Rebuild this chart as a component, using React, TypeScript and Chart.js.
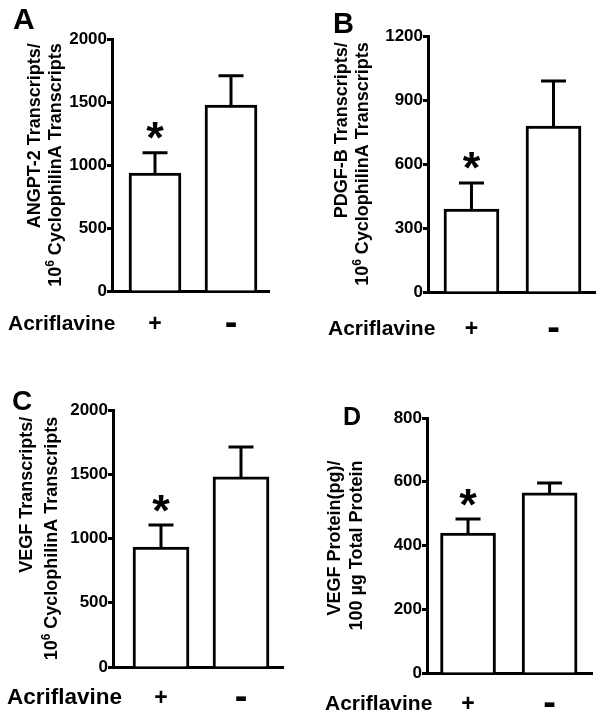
import React, { useEffect, useRef } from 'react';
import { Chart, registerables } from 'chart.js';

Chart.register(...registerables);

const FONT = '"Liberation Sans", Arial, Helvetica, sans-serif';

// ---------- data ----------
const categories = ['+', '-'];
const treatmentLabel = 'Acriflavine';
const significant = [true, false];

const angpt2Means = [936, 1476];
const angpt2Sem = [162, 232];
const angpt2Ticks = [0, 500, 1000, 1500, 2000];

const pdgfbMeans = [389, 778];
const pdgfbSem = [122, 211];
const pdgfbTicks = [0, 300, 600, 900, 1200];

const vegfMeans = [934, 1479];
const vegfSem = [171, 233];
const vegfTicks = [0, 500, 1000, 1500, 2000];

const vegfProteinMeans = [439, 565];
const vegfProteinSem = [44, 31];
const vegfProteinTicks = [0, 200, 400, 600, 800];

type Seg = { text: string; sup?: boolean };

const angpt2Title: Seg[][] = [
  [{ text: 'ANGPT-2 Transcripts/' }],
  [{ text: '10' }, { text: '6', sup: true }, { text: ' CyclophilinA Transcripts' }],
];
const pdgfbTitle: Seg[][] = [
  [{ text: 'PDGF-B Transcripts/' }],
  [{ text: '10' }, { text: '6', sup: true }, { text: ' CyclophilinA Transcripts' }],
];
const vegfTitle: Seg[][] = [
  [{ text: 'VEGF Transcripts/' }],
  [{ text: '10' }, { text: '6', sup: true }, { text: ' CyclophilinA Transcripts' }],
];
const vegfProteinTitle: Seg[][] = [
  [{ text: 'VEGF Protein(pg)/' }],
  [{ text: '100 \u00B5g Total Protein' }],
];

// ---------- layout ----------
const panels = [
  {
    letter: 'A', means: angpt2Means, sem: angpt2Sem, ticks: angpt2Ticks, title: angpt2Title,
    x: 0, y: 0, w: 302, h: 355,
    area: { l: 112, r: 269, t: 39, b: 291 },
    xMin: -0.566, xMax: 1.5, barThickness: 52,
    letterPos: { x: 13, y: 29, size: 30 },
    titleX: [40, 61], xPad: 20, acriX: 8, acriSize: 21,
  },
  {
    letter: 'B', means: pdgfbMeans, sem: pdgfbSem, ticks: pdgfbTicks, title: pdgfbTitle,
    x: 302, y: 0, w: 302, h: 355,
    area: { l: 126, r: 293, t: 36, b: 292 },
    xMin: -0.53, xMax: 1.506, barThickness: 55,
    letterPos: { x: 31, y: 33, size: 29 },
    titleX: [45, 66], xPad: 24, acriX: 26, acriSize: 21,
  },
  {
    letter: 'C', means: vegfMeans, sem: vegfSem, ticks: vegfTicks, title: vegfTitle,
    x: 0, y: 355, w: 302, h: 364,
    area: { l: 113, r: 283, t: 55, b: 312 },
    xMin: -0.6, xMax: 1.525, barThickness: 56,
    letterPos: { x: 12, y: 55, size: 28 },
    titleX: [32, 57], xPad: 18, acriX: 7, acriSize: 22.5,
  },
  {
    letter: 'D', means: vegfProteinMeans, sem: vegfProteinSem, ticks: vegfProteinTicks, title: vegfProteinTitle,
    x: 302, y: 355, w: 302, h: 364,
    area: { l: 125, r: 290, t: 63, b: 318 },
    xMin: -0.503, xMax: 1.52, barThickness: 55,
    letterPos: { x: 41, y: 70, size: 25 },
    titleX: [38, 60], xPad: 18, acriX: 23, acriSize: 21,
  },
];

type PanelCfg = typeof panels[number];

const X_LABEL_SIZE = 23;
const LINE_BOX = X_LABEL_SIZE * 1.2;

function Panel({ p }: { p: PanelCfg }) {
  const ref = useRef<HTMLCanvasElement>(null);
  useEffect(() => {
    const canvas = ref.current!;
    const ticks = p.ticks;
    const yMax = ticks[ticks.length - 1];
    const capWidth = 25;
    const starGap = 22;

    const annotate = {
      id: 'annotate',
      afterDraw(chart: any) {
        const { ctx, chartArea } = chart;
        const yScale = chart.scales.y;
        const meta = chart.getDatasetMeta(0);
        ctx.save();
        ctx.strokeStyle = '#000';
        ctx.fillStyle = '#000';
        ctx.lineWidth = 3;
        ctx.lineCap = 'butt';
        meta.data.forEach((bar: any, i: number) => {
          const top = yScale.getPixelForValue(p.means[i] + p.sem[i]);
          ctx.beginPath();
          ctx.moveTo(bar.x, bar.y);
          ctx.lineTo(bar.x, top);
          ctx.moveTo(bar.x - capWidth / 2, top);
          ctx.lineTo(bar.x + capWidth / 2, top);
          ctx.stroke();
          if (significant[i]) {
            ctx.font = `bold 45px ${FONT}`;
            ctx.textAlign = 'center';
            ctx.textBaseline = 'alphabetic';
            const m = ctx.measureText('*');
            const cy = top - starGap;
            const by = cy + (m.actualBoundingBoxAscent - m.actualBoundingBoxDescent) / 2;
            ctx.fillText('*', bar.x, by);
          }
        });

        // panel letter
        ctx.font = `bold ${p.letterPos.size}px ${FONT}`;
        ctx.textAlign = 'left';
        ctx.textBaseline = 'alphabetic';
        ctx.fillText(p.letter, p.letterPos.x, p.letterPos.y);

        // treatment label
        const xLabelY = chartArea.bottom + p.xPad + 13;
        ctx.font = `bold ${p.acriSize}px ${FONT}`;
        ctx.textBaseline = 'middle';
        ctx.fillText(treatmentLabel, p.acriX, xLabelY);

        // rotated y title
        const mainFont = `bold 18px ${FONT}`;
        const supFont = `bold 12px ${FONT}`;
        const widths = p.title.map((line) =>
          line.reduce((w, s) => {
            ctx.font = s.sup ? supFont : mainFont;
            return w + ctx.measureText(s.text).width;
          }, 0)
        );
        const maxW = Math.max(...widths);
        const cy = (chartArea.top + chartArea.bottom) / 2;
        p.title.forEach((line, li) => {
          ctx.save();
          ctx.translate(p.titleX[li], cy);
          ctx.rotate(-Math.PI / 2);
          ctx.textAlign = 'left';
          ctx.textBaseline = 'alphabetic';
          let x = maxW / 2 - widths[li];
          line.forEach((s) => {
            ctx.font = s.sup ? supFont : mainFont;
            ctx.fillText(s.text, x, s.sup ? -7 : 0);
            x += ctx.measureText(s.text).width;
          });
          ctx.restore();
        });
        ctx.restore();
      },
    };

    const chart = new Chart(canvas, {
      type: 'bar',
      data: {
        datasets: [
          {
            data: p.means.map((m, i) => ({ x: i, y: m })),
            backgroundColor: '#ffffff',
            borderColor: '#000000',
            borderWidth: 3,
            borderSkipped: 'start',
            barThickness: p.barThickness,
          } as any,
        ],
      },
      options: {
        responsive: false,
        maintainAspectRatio: false,
        animation: false,
        devicePixelRatio: 1,
        layout: { padding: { top: p.area.t, right: p.w - p.area.r, left: 0, bottom: 0 } },
        plugins: { legend: { display: false }, tooltip: { enabled: false }, title: { display: false } },
        scales: {
          x: {
            type: 'linear',
            offset: false,
            min: p.xMin,
            max: p.xMax,
            afterBuildTicks: (s: any) => {
              s.ticks = categories.map((_, i) => ({ value: i }));
            },
            afterFit: (s: any) => {
              s.height = p.h - p.area.b;
            },
            grid: { display: false, drawTicks: false },
            border: { display: true, color: '#000', width: 3 },
            ticks: {
              callback: (v: any) => categories[v] ?? '',
              font: (c: any) => {
                const isDash = c && c.tick && c.tick.label === '-';
                const size = isDash ? 38 : X_LABEL_SIZE;
                return { family: FONT, weight: 'bold', size, lineHeight: LINE_BOX / size };
              },
              color: '#000',
              padding: p.xPad,
              maxRotation: 0,
              autoSkip: false,
            },
          },
          y: {
            min: 0,
            max: yMax,
            afterBuildTicks: (s: any) => {
              s.ticks = ticks.map((v) => ({ value: v }));
            },
            afterFit: (s: any) => {
              s.width = p.area.l;
            },
            grid: { drawOnChartArea: false, drawTicks: true, tickLength: 5, tickWidth: 3, color: '#000' },
            border: { display: true, color: '#000', width: 3 },
            ticks: {
              callback: (v: any) => String(v),
              font: { family: FONT, size: 17, weight: 'bold' },
              color: '#000',
              padding: 0,
            },
          },
        },
      } as any,
      plugins: [annotate],
    });
    return () => chart.destroy();
  }, [p]);
  return (
    <canvas
      ref={ref}
      width={p.w}
      height={p.h}
      style={{ position: 'absolute', left: p.x, top: p.y, width: p.w, height: p.h }}
    />
  );
}

export default function App() {
  return (
    <div style={{ position: 'absolute', left: 0, top: 0, width: 604, height: 719, background: '#fff' }}>
      {panels.map((p) => (
        <Panel key={p.letter} p={p} />
      ))}
    </div>
  );
}
